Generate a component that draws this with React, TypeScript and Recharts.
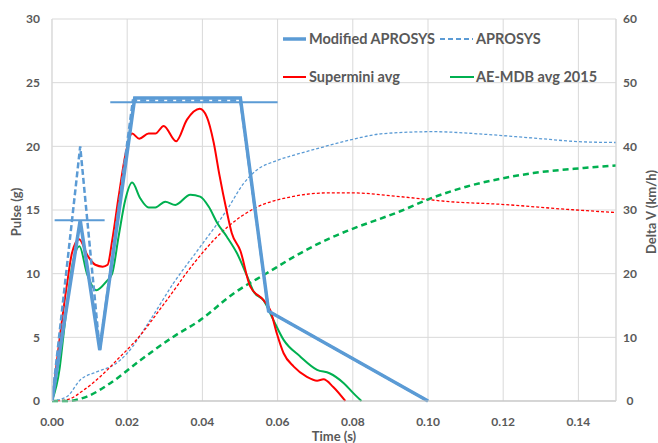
import React from 'react';
import { LineChart, Line, XAxis, YAxis, CartesianGrid } from 'recharts';

const timeTicks = [0, 0.02, 0.04, 0.06, 0.08, 0.1, 0.12, 0.14];
const pulseTicks = [0, 5, 10, 15, 20, 25, 30];
const deltaVTicks = [0, 10, 20, 30, 40, 50, 60];

// [time (s), pulse (g)]
const modifiedAprosys = [[0, 0], [0.0075, 14.2], [0.0127, 4.0], [0.022, 23.8], [0.0501, 23.8], [0.0576, 7.05], [0.1, 0]];
const aprosys = [[0, 0], [0.0075, 20.0], [0.0127, 4.0], [0.0215, 23.6], [0.0501, 23.6], [0.0576, 7.05], [0.1, 0]];
const corridorLow = [[0.0007, 14.2], [0.014, 14.2]];
const corridorHigh = [[0.0155, 23.47], [0.06, 23.47]];

const superminiPulse = [
  [0, 0], [0.0022, 5.3], [0.004, 9.2], [0.0053, 11.6], [0.0072, 12.7], [0.0095, 11.4], [0.0115, 10.7],
  [0.0135, 10.55], [0.0148, 10.7], [0.016, 12.6], [0.0177, 16.0], [0.0195, 19.3], [0.0213, 21.0],
  [0.0232, 20.6], [0.0257, 21.0], [0.0275, 21.0], [0.0297, 21.6], [0.033, 20.4], [0.0359, 22.1],
  [0.0393, 22.95], [0.0412, 22.3], [0.043, 20.3], [0.0445, 17.8], [0.0464, 15.0], [0.0478, 13.2],
  [0.0501, 11.8], [0.0527, 9.0], [0.0563, 7.9], [0.0581, 7.1], [0.0598, 5.3], [0.0616, 3.75],
  [0.0643, 2.7], [0.0678, 1.9], [0.0705, 1.6], [0.0722, 1.7], [0.0748, 1.1], [0.078, 0],
];

const aeMdbPulse = [
  [0, 0], [0.002, 2.5], [0.0031, 5.3], [0.0055, 10.8], [0.0073, 12.15], [0.0093, 10.0], [0.0118, 8.7],
  [0.0145, 9.4], [0.016, 10.0], [0.0177, 12.9], [0.0195, 15.8], [0.0213, 17.15], [0.0235, 15.9],
  [0.0257, 15.2], [0.0275, 15.2], [0.0301, 15.65], [0.0328, 15.4], [0.0368, 16.2], [0.0394, 16.05],
  [0.0417, 15.25], [0.0439, 14.0], [0.0465, 12.9], [0.0492, 11.6], [0.0519, 9.8], [0.0536, 8.6],
  [0.0563, 7.9], [0.0589, 6.35], [0.0616, 4.8], [0.066, 3.5], [0.0705, 2.45], [0.0738, 2.18],
  [0.0776, 1.4], [0.0802, 0.6], [0.0823, 0],
];

// [time (s), delta V (km/h)]
const aprosysDeltaV = [
  [0, 0], [0.004, 0.7], [0.0075, 3.3], [0.012, 4.6], [0.0164, 5.65], [0.02, 7.5], [0.0261, 12.7],
  [0.0323, 18.5], [0.0394, 24.2], [0.0465, 30.0], [0.051, 34.2], [0.0545, 36.3], [0.059, 37.6],
  [0.063, 38.4], [0.066, 38.9], [0.074, 40.2], [0.0793, 41.0], [0.0882, 42.0], [0.1015, 42.3],
  [0.1148, 41.9], [0.128, 41.3], [0.1414, 40.7], [0.15, 40.6],
];

const superminiDeltaV = [
  [0, 0], [0.004, 0.2], [0.0084, 1.7], [0.0128, 3.8], [0.0182, 7.0], [0.0217, 9.1], [0.0306, 15.9],
  [0.0377, 21.6], [0.0439, 25.8], [0.0501, 28.9], [0.054, 30.3], [0.063, 32.0], [0.074, 32.7],
  [0.0793, 32.7], [0.0926, 32.1], [0.1059, 31.3], [0.1192, 30.9], [0.137, 30.1], [0.15, 29.6],
];

const aeMdbDeltaV = [
  [0, 0], [0.004, 0], [0.0093, 0.7], [0.0155, 2.8], [0.0235, 6.4], [0.0323, 10.1], [0.0394, 12.7],
  [0.0483, 16.9], [0.0572, 20.1], [0.066, 23.2], [0.074, 25.6], [0.0793, 26.9], [0.0926, 29.8],
  [0.1002, 31.7], [0.1104, 33.7], [0.1192, 34.9], [0.128, 35.8], [0.1414, 36.6], [0.15, 37.0],
];

const toRows = (pts: number[][]) => pts.map(([t, v]) => ({ t, v }));

const BLUE = '#5b9bd5';
const RED = '#ff0000';
const GREEN = '#00b050';
const TEXT = '#595959';
const FONT = 'Lato, "Open Sans", sans-serif';

const RightTick = (props: any) => {
  const { x, y, payload } = props;
  return (
    <text x={x} y={y} dy="0.35em" textAnchor="middle" fill={TEXT} fontSize={12} fontWeight={700} fontFamily={FONT}>
      {payload.value}
    </text>
  );
};

const legendItems = [
  { label: 'Modified APROSYS', color: BLUE, width: 3.5, dash: undefined, x1: 283, x2: 306, tx: 309, y: 39 },
  { label: 'APROSYS', color: BLUE, width: 2, dash: '5 3', x1: 440, x2: 473, tx: 476, y: 39 },
  { label: 'Supermini avg', color: RED, width: 2, dash: undefined, x1: 283, x2: 306, tx: 309, y: 77 },
  { label: 'AE-MDB avg 2015', color: GREEN, width: 2, dash: undefined, x1: 450, x2: 474, tx: 476, y: 77 },
];

export default function App() {
  return (
    <div style={{ position: 'absolute', left: 0, top: 0, width: 658, height: 443, background: '#fff' }}>
      <LineChart width={658} height={443} margin={{ top: 19, right: 0, left: 0, bottom: 0 }}>
        <CartesianGrid yAxisId="left" stroke="#d9d9d9" strokeWidth={1} />
        <XAxis
          dataKey="t"
          type="number"
          domain={[0, 0.15]}
          ticks={timeTicks}
          allowDataOverflow
          tickFormatter={(v: number) => v.toFixed(2)}
          height={42}
          stroke="#bfbfbf"
          tickLine={false}
          tickMargin={10}
          tick={{ fill: TEXT, fontSize: 12, fontWeight: 700, fontFamily: FONT }}
        />
        <YAxis
          yAxisId="left"
          domain={[0, 30]}
          ticks={pulseTicks}
          width={52}
          stroke="#d9d9d9"
          tickLine={false}
          tickMargin={6}
          tick={{ fill: TEXT, fontSize: 12, fontWeight: 700, fontFamily: FONT }}
        />
        <YAxis
          yAxisId="right"
          orientation="right"
          domain={[0, 60]}
          ticks={deltaVTicks}
          width={42}
          stroke="#d9d9d9"
          tickLine={false}
          tickMargin={8}
          tick={<RightTick />}
        />

        {/* delta V curves */}
        <Line yAxisId="right" data={toRows(aprosysDeltaV)} dataKey="v" type="monotone" stroke={BLUE} strokeWidth={1.3} strokeDasharray="3 2" dot={false} isAnimationActive={false} />
        <Line yAxisId="right" data={toRows(superminiDeltaV)} dataKey="v" type="monotone" stroke={RED} strokeWidth={1.3} strokeDasharray="3 2" dot={false} isAnimationActive={false} />
        <Line yAxisId="right" data={toRows(aeMdbDeltaV)} dataKey="v" type="monotone" stroke={GREEN} strokeWidth={2.5} strokeDasharray="6 4" dot={false} isAnimationActive={false} />

        {/* pulses */}
        <Line yAxisId="left" data={toRows(aeMdbPulse)} dataKey="v" type="monotone" stroke={GREEN} strokeWidth={2} dot={false} isAnimationActive={false} />
        <Line yAxisId="left" data={toRows(superminiPulse)} dataKey="v" type="monotone" stroke={RED} strokeWidth={2} dot={false} isAnimationActive={false} />
        <Line yAxisId="left" data={toRows(corridorLow)} dataKey="v" type="linear" stroke={BLUE} strokeWidth={2} dot={false} isAnimationActive={false} />
        <Line yAxisId="left" data={toRows(corridorHigh)} dataKey="v" type="linear" stroke={BLUE} strokeWidth={2} dot={false} isAnimationActive={false} />
        <Line yAxisId="left" data={toRows(modifiedAprosys)} dataKey="v" type="linear" stroke={BLUE} strokeWidth={3.5} dot={false} isAnimationActive={false} />
        <Line yAxisId="left" data={toRows(aprosys)} dataKey="v" type="linear" stroke={BLUE} strokeWidth={2.5} strokeDasharray="6 3" dot={false} isAnimationActive={false} />
      </LineChart>

      <svg width={658} height={443} style={{ position: 'absolute', left: 0, top: 0, pointerEvents: 'none' }}>
        {legendItems.map((it) => (
          <g key={it.label}>
            <line x1={it.x1} x2={it.x2} y1={it.y} y2={it.y} stroke={it.color} strokeWidth={it.width} strokeDasharray={it.dash} />
            <text x={it.tx} y={it.y} dy="0.35em" fill={TEXT} fontSize={14.5} fontWeight={700} fontFamily={FONT}>
              {it.label}
            </text>
          </g>
        ))}
        <text x={334} y={436} dy="0.35em" textAnchor="middle" fill={TEXT} fontSize={13} fontWeight={700} fontFamily={FONT}>
          Time (s)
        </text>
        <text x={16} y={212} dy="0.35em" textAnchor="middle" fill={TEXT} fontSize={13} fontWeight={700} fontFamily={FONT} transform="rotate(-90 16 212)">
          Pulse (g)
        </text>
        <text x={651} y={212} dy="0.35em" textAnchor="middle" fill={TEXT} fontSize={13} fontWeight={700} fontFamily={FONT} transform="rotate(-90 651 212)">
          Delta V (km/h)
        </text>
      </svg>
    </div>
  );
}
